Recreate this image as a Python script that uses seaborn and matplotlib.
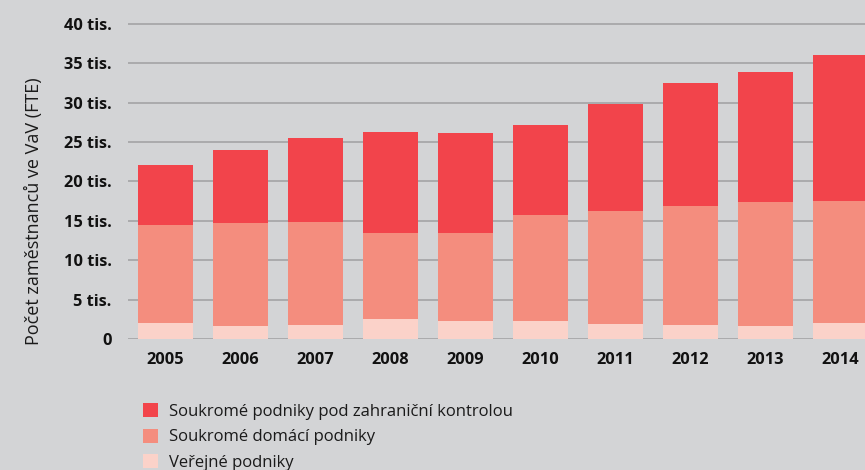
import matplotlib
matplotlib.use("Agg")
import matplotlib.pyplot as plt
import seaborn as sns
import pandas as pd
import numpy as np
from matplotlib.patches import Patch

years = ["2005", "2006", "2007", "2008", "2009", "2010", "2011", "2012", "2013", "2014"]
verejne = [2.07, 1.69, 1.78, 2.54, 2.29, 2.29, 1.90, 1.78, 1.65, 2.03]
domaci = [12.43, 13.08, 13.08, 10.92, 11.17, 13.46, 14.35, 15.12, 15.75, 15.47]
zahranicni = [7.60, 9.23, 10.64, 12.84, 12.70, 11.42, 13.59, 15.60, 16.50, 18.56]

series_names = ["Soukromé podniky pod zahraniční kontrolou", "Soukromé domácí podniky", "Veřejné podniky"]
colors = ["#F2444B", "#F48D7E", "#FBD2C9"]
bg = "#D3D4D6"

sns.set_theme(style="white")
plt.rcParams['font.family'] = ['Open Sans', 'DejaVu Sans']

fig = plt.figure(figsize=(8.65, 4.7), dpi=100, facecolor=bg)
ax = fig.add_axes([128.3 / 865, 131 / 470, 1 - 128.3 / 865, (339 - 16) / 470])
ax.set_facecolor(bg)

df = pd.DataFrame({"year": years, "v": verejne, "d": domaci, "z": zahranicni})
df["vd"] = df["v"] + df["d"]
df["vdz"] = df["vd"] + df["z"]

w = 0.733
sns.barplot(data=df, x="year", y="vdz", color=colors[0], width=w, saturation=1, ax=ax, zorder=3, linewidth=0)
sns.barplot(data=df, x="year", y="vd", color=colors[1], width=w, saturation=1, ax=ax, zorder=3, linewidth=0)
sns.barplot(data=df, x="year", y="v", color=colors[2], width=w, saturation=1, ax=ax, zorder=3, linewidth=0)

ax.set_xlim(-0.492, 9.33)
ax.set_ylim(0, 41.0)
yt = [0, 5, 10, 15, 20, 25, 30, 35, 40]
ax.set_yticks(yt)
ax.set_yticklabels(["0"] + [f"{t} tis." for t in yt[1:]], fontsize=11.8, fontweight="bold", color="#111111")
ax.tick_params(axis="y", length=0, pad=12)
ax.set_xticks(range(len(years)))
ax.set_xticklabels(years, fontsize=11.8, fontweight="bold", color="#111111")
ax.tick_params(axis="x", length=0, pad=9)
ax.yaxis.grid(True, color="#A3A3A5", linewidth=1.2, zorder=0)
ax.set_axisbelow(True)
for s in ax.spines.values():
    s.set_visible(False)
ax.set_xlabel("")
ax.set_ylabel("Počet zaměstnanců ve VaV (FTE)", fontsize=13, color="#1a1a1a")
ax.yaxis.set_label_coords(-85 / (865 - 128.3), (339 - 211) / 323)

handles = [Patch(facecolor=c, edgecolor="none") for c in colors]
fig.legend(handles, series_names, loc="upper left", bbox_to_anchor=(136.5 / 865, 1 - 396.5 / 470),
           frameon=False, fontsize=12, handlelength=0.9, handleheight=0.9, handletextpad=0.65,
           labelspacing=0.53, labelcolor="#1a1a1a", borderaxespad=0)

fig.savefig("out.png", dpi=100, facecolor=bg)
